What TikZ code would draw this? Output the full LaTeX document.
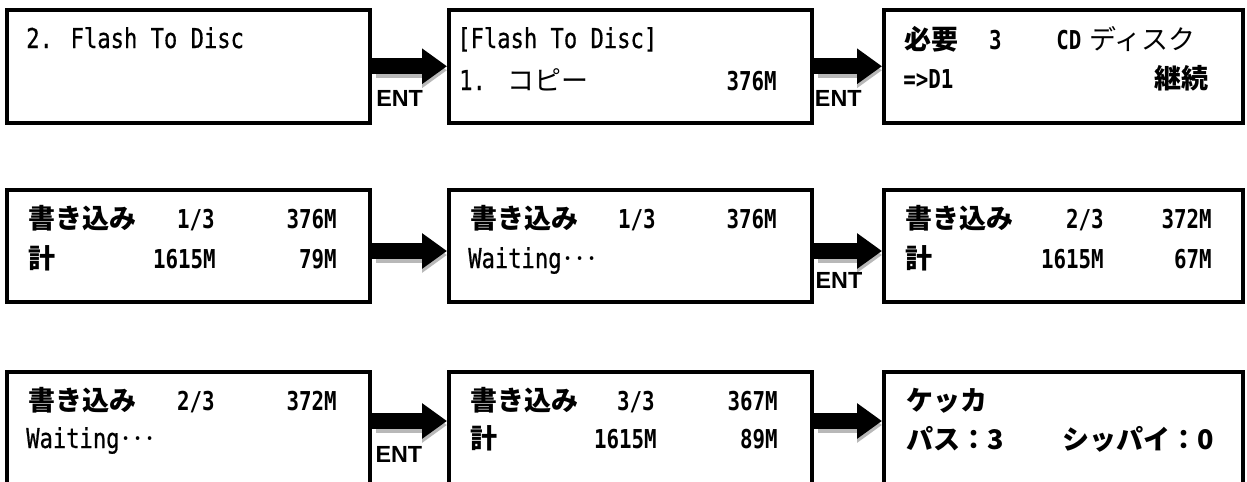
\documentclass[tikz,border=0pt]{standalone}
\usepackage{fontspec}
\setmainfont{DejaVu Sans Mono}
\newfontfamily\lcdfont[FakeStretch=0.81,FakeBold=0.6]{DejaVu Sans Mono}
\newfontfamily\numfont[FakeStretch=0.8]{DejaVu Sans Mono}
\newfontfamily\jpfont{Noto Sans CJK JP}
\newfontfamily\entfont{Liberation Sans}
\usetikzlibrary{arrows.meta}
\definecolor{arrowgray}{gray}{0.72}
\newcommand{\lcddots}{{\jpfont\kern-1pt·\kern-2.5pt·\kern-2.5pt·}}

\begin{document}
\begin{tikzpicture}[
    x=0.75pt, y=-0.75pt,          % Koordinaten in Pixeln, y nach unten
    screen/.style={draw, line width=3pt, minimum width=272.25pt, minimum height=84.4pt, inner sep=0pt},
    lcdtext/.style={inner sep=0pt, anchor=base west, font={\lcdfont\fontsize{20.5}{24}\selectfont}},
    lcdnum/.style={inner sep=0pt, anchor=base east, font={\numfont\bfseries\fontsize{19.5}{23}\selectfont}},
    jptext/.style={inner sep=0pt, anchor=base west, font={\jpfont\fontsize{20.25}{24}\selectfont}},
    jpbold/.style={inner sep=0pt, anchor=base west, font={\jpfont\bfseries\fontsize{20.25}{24}\selectfont}},
    entkey/.style={inner sep=0pt, anchor=base west, font={\entfont\bfseries\fontsize{17.5}{21}\selectfont}},
    bigarrow/.style={line width=12pt, -{Triangle[length=18.75pt,width=25.5pt]}},
    arrowshadow/.style={bigarrow, draw=arrowgray}
  ]

  \useasboundingbox (0,0) rectangle (1247,482);
  \fill[white] (0,0) rectangle (1247,482);
  \clip (0,0) rectangle (1247,482);

  % Displays (3 Zeilen x 3 Spalten)
  \node[screen] (s1) at (188.75,66.25) {};
  \node[screen] (s2) at (630.5,66.25)  {};
  \node[screen, minimum width=269.25pt] (s3) at (1063.5,66.25) {};

  \node[screen] (s4) at (188.75,246) {};
  \node[screen] (s5) at (630.5,246)  {};
  \node[screen, minimum width=269.25pt] (s6) at (1063.5,246) {};

  \node[screen, minimum height=90pt] (s7) at (188.75,432) {};
  \node[screen, minimum height=90pt] (s8) at (630.5,432)  {};
  \node[screen, minimum height=90pt, minimum width=269.25pt] (s9) at (1063.5,432) {};

  % Schatten der Pfeile
  \draw[arrowshadow] ([shift={(3pt,-3pt)}]s1.east) -- ([yshift=-3pt]s2.west);
  \draw[arrowshadow] ([shift={(3pt,-3pt)}]s2.east) -- ([yshift=-3pt]s3.west);
  \draw[arrowshadow] ([shift={(3pt,-6.75pt)}]s4.east) -- ([yshift=-6.75pt]s5.west);
  \draw[arrowshadow] ([shift={(3pt,-6.75pt)}]s5.east) -- ([yshift=-6.75pt]s6.west);
  \draw[arrowshadow] ([shift={(3pt,5.25pt)}]s7.east) -- ([yshift=5.25pt]s8.west);
  \draw[arrowshadow] ([shift={(3pt,5.25pt)}]s8.east) -- ([yshift=5.25pt]s9.west);

  % Pfeile
  \draw[bigarrow] (s1.east) -- (s2.west);
  \draw[bigarrow] (s2.east) -- (s3.west);
  \draw[bigarrow] ([yshift=-3.75pt]s4.east) -- ([yshift=-3.75pt]s5.west);
  \draw[bigarrow] ([yshift=-3.75pt]s5.east) -- ([yshift=-3.75pt]s6.west);
  \draw[bigarrow] ([yshift=8.25pt]s7.east) -- ([yshift=8.25pt]s8.west);
  \draw[bigarrow] ([yshift=8.25pt]s8.east) -- ([yshift=8.25pt]s9.west);

  % Tasten
  \node[entkey] (ent1) at ([shift={(2.85pt,-30.5pt)}]s1.east) {ENT};
  \node[entkey] (ent2) at ([shift={(0.5pt,-30.5pt)}]s2.east) {ENT};
  \node[entkey] (ent3) at ([shift={(1pt,-31.5pt)}]s5.east)  {ENT};
  \node[entkey] (ent4) at ([shift={(2.25pt,-22.5pt)}]s7.east) {ENT};

  % Zeile 1
  \node[lcdtext] (t1a) at (26,48)   {2. Flash To Disc};
  \node[lcdtext] (t2a) at (457,48)  {[Flash To Disc]};
  \node[lcdtext] (t2b) at (459,90)  {1.};
  \node[jptext]  (t2c) at (507,90)  {コピー};
  \node[lcdnum]  (t2d) at (777,90)  {376M};
  \node[jpbold]  (t3a) at (904,49)  {必要};
  \node[lcdnum]  (t3b) at (1002,49) {3};
  \node[lcdnum, anchor=base west] (t3c) at (1056,49) {CD};
  \node[jptext]  (t3d) at (1089,49) {ディスク};
  \node[lcdnum, anchor=base west] (t3e) at (903,88) {=>D1};
  \node[jpbold, anchor=base east] (t3f) at (1209,88) {継続};

  % Zeile 2
  \node[jpbold]  (t4a) at (28,228)   {書き込み};
  \node[lcdnum]  (t4b) at (215,228)  {1/3};
  \node[lcdnum]  (t4c) at (337,228)  {376M};
  \node[jpbold]  (t4d) at (28,268)   {計};
  \node[lcdnum]  (t4e) at (216,268)  {1615M};
  \node[lcdnum]  (t4f) at (337,268)  {79M};
  \node[jpbold]  (t5a) at (470,228)  {書き込み};
  \node[lcdnum]  (t5b) at (656,228)  {1/3};
  \node[lcdnum]  (t5c) at (777,228)  {376M};
  \node[lcdtext] (t5d) at (468,268)  {Waiting\lcddots};
  \node[jpbold]  (t6a) at (905,228)  {書き込み};
  \node[lcdnum]  (t6b) at (1104,228) {2/3};
  \node[lcdnum]  (t6c) at (1212,228) {372M};
  \node[jpbold]  (t6d) at (905,268)  {計};
  \node[lcdnum]  (t6e) at (1104,268) {1615M};
  \node[lcdnum]  (t6f) at (1212,268) {67M};

  % Zeile 3
  \node[jpbold]  (t7a) at (28,410)   {書き込み};
  \node[lcdnum]  (t7b) at (215,410)  {2/3};
  \node[lcdnum]  (t7c) at (337,410)  {372M};
  \node[lcdtext] (t7d) at (26,448)   {Waiting\lcddots};
  \node[jpbold]  (t8a) at (470,410)  {書き込み};
  \node[lcdnum]  (t8b) at (655,410)  {3/3};
  \node[lcdnum]  (t8c) at (778,410)  {367M};
  \node[jpbold]  (t8d) at (470,448)  {計};
  \node[lcdnum]  (t8e) at (657,448)  {1615M};
  \node[lcdnum]  (t8f) at (778,448)  {89M};
  \node[jpbold]  (t9a) at (906,410)  {ケッカ};
  \node[jpbold]  (t9b) at (906,449)  {パス：3};
  \node[jpbold, anchor=base east] (t9c) at (1214,449) {シッパイ：0};

\end{tikzpicture}
\end{document}
